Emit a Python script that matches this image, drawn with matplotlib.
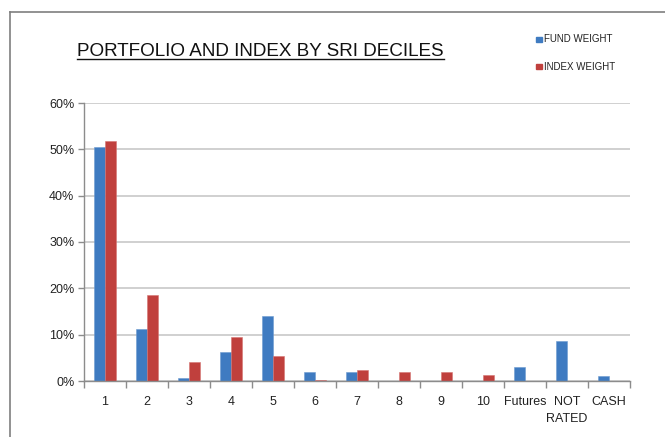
import matplotlib
matplotlib.use("Agg")
import matplotlib.pyplot as plt
import numpy as np
from matplotlib.lines import Line2D
from matplotlib.patches import Rectangle

categories = ["1", "2", "3", "4", "5", "6", "7", "8", "9", "10", "Futures", "NOT\nRATED", "CASH"]
fund_weight = [50.4, 11.2, 0.6, 6.3, 14.1, 2.0, 2.0, 0, 0, 0, 3.0, 8.6, 1.1]
index_weight = [51.7, 18.5, 4.1, 9.6, 5.4, 0.3, 2.4, 2.0, 2.0, 1.3, 0, 0, 0]
yticks = [0, 10, 20, 30, 40, 50, 60]

BLUE = "#3F7BC1"
RED = "#C0403D"
GRID = "#D0D0D0"
AXIS = "#8C8C8C"

plt.rcParams["font.family"] = ["Liberation Sans", "DejaVu Sans"]

fig = plt.figure(figsize=(6.65, 4.37), dpi=100)
ax = fig.add_axes([84 / 665, 1 - 381 / 437, 546 / 665, 278 / 437])

x = np.arange(len(categories))
w = 0.27
ax.bar(x - w / 2, fund_weight, w, color=BLUE, edgecolor="#6D9AD0", lw=0.4, zorder=3)
ax.bar(x + w / 2, index_weight, w, color=RED, edgecolor="#D57573", lw=0.4, zorder=3)

ax.set_xlim(-0.5, len(categories) - 0.5)
ax.set_ylim(0, 60)
ax.set_yticks(yticks)
ax.set_yticklabels([f"{v}%" for v in yticks])
ax.set_xticks(x)
ax.set_xticklabels(categories, linespacing=1.55)
ax.set_xticks(np.arange(len(categories) + 1) - 0.5, minor=True)

ax.tick_params(axis="x", which="major", length=0, pad=11, labelsize=9, labelcolor="#222222")
ax.tick_params(axis="x", which="minor", length=5, color=AXIS, width=1)
ax.tick_params(axis="y", length=4, color=AXIS, width=1, pad=3, labelsize=9, labelcolor="#222222")

ax.grid(axis="y", color=GRID, lw=1.4, zorder=0)
for side in ["top", "right"]:
    ax.spines[side].set_visible(False)
for side in ["left", "bottom"]:
    ax.spines[side].set_color(AXIS)
    ax.spines[side].set_linewidth(1)
ax.spines["bottom"].set_zorder(4)

# title with underline
title = fig.text(77 / 665, 1 - 56.5 / 437, "PORTFOLIO AND INDEX BY SRI DECILES",
                 fontsize=13.6, va="baseline", ha="left", color="#111111")
fig.canvas.draw()
bb = title.get_window_extent().transformed(fig.transFigure.inverted())
fig.add_artist(Line2D([bb.x0, bb.x1], [1 - 59 / 437, 1 - 59 / 437],
                      transform=fig.transFigure, color="#111111", lw=1))

# legend
for ypx, label, col in [(39.3, "FUND WEIGHT", BLUE), (66.7, "INDEX WEIGHT", RED)]:
    fig.add_artist(Rectangle((536 / 665, 1 - (ypx + 2.5) / 437), 6 / 665, 5 / 437,
                             transform=fig.transFigure, color=col))
    fig.text(544 / 665, 1 - ypx / 437, label, fontsize=7, va="center", ha="left",
             color="#222222")

# frame around the picture
fig.add_artist(Line2D([10 / 665, 1], [1 - 12 / 437, 1 - 12 / 437],
                      transform=fig.transFigure, color="#7F7F7F", lw=1.2))
fig.add_artist(Line2D([10 / 665, 10 / 665], [0, 1 - 12 / 437],
                      transform=fig.transFigure, color="#7F7F7F", lw=1.2))

fig.savefig("out.png", dpi=100)
